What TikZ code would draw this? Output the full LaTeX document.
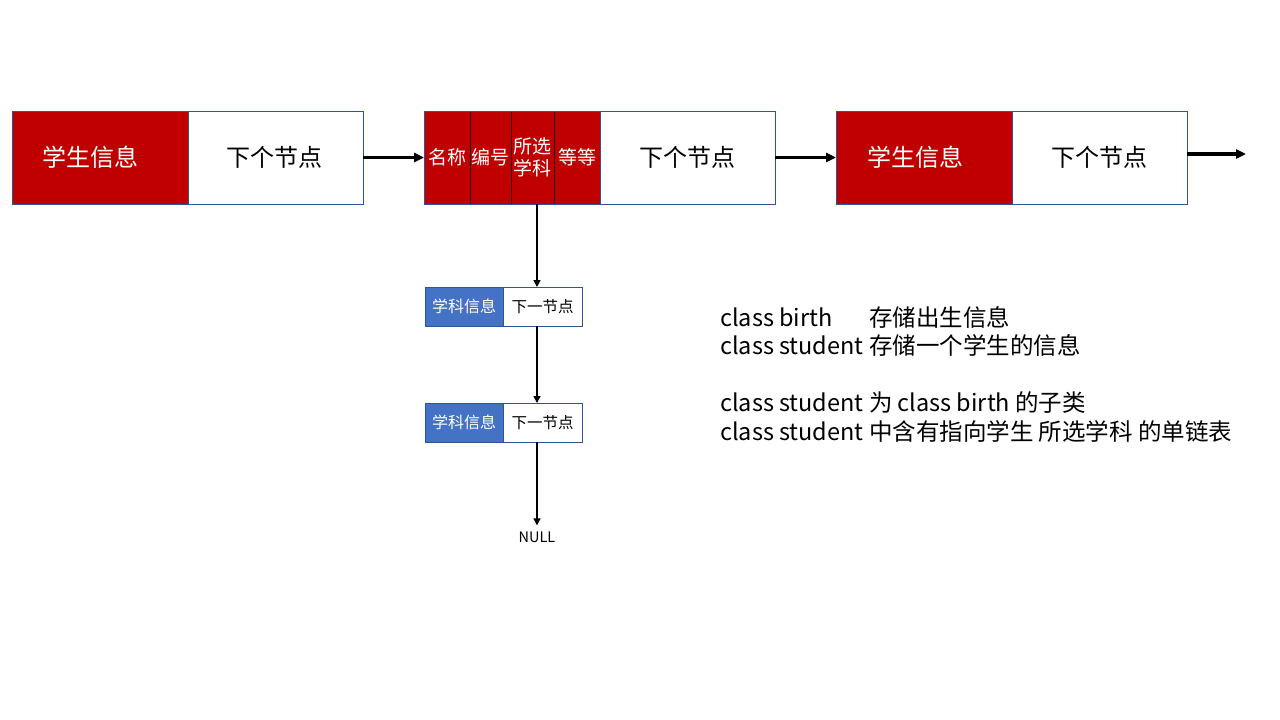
\documentclass[tikz,border=0pt]{standalone}
\usepackage{fontspec}
\setmainfont{Noto Sans CJK SC}
\usetikzlibrary{arrows.meta,positioning}

\definecolor{cellred}{HTML}{C00000}
\definecolor{cellblue}{HTML}{4472C4}
\definecolor{edgeblue}{HTML}{2F5597}

\tikzset{
    cell/.style = {draw=edgeblue, line width=1pt, inner sep=0pt, outer sep=0pt, minimum height=93pt},
    infocell/.style = {cell, fill=cellred, text=white, minimum width=176pt, font=\fontsize{24}{24}\selectfont},
    nextcell/.style = {cell, fill=white, minimum width=175pt, font=\fontsize{24}{24}\selectfont},
    fieldcell/.style = {cell, draw=black!75!cellred, fill=cellred, text=white, align=center, font=\fontsize{19}{22}\selectfont},
    subcell/.style = {draw=edgeblue, line width=1pt, inner sep=0pt, outer sep=0pt, minimum height=39pt, minimum width=78pt},
    link/.style = {line width=2.8pt, -{Triangle[length=10pt,width=9pt]}},
    sublink/.style = {line width=1.5pt, -{Triangle[length=7pt,width=7pt]}},
    note/.style = {anchor=west, inner sep=0pt, font=\fontsize{23.5}{23.5}\selectfont}
}

\begin{document}
\begin{tikzpicture}[x=1pt, y=-1pt]
    \useasboundingbox (0,0) rectangle (1280,720);

    % first student node
    \node[infocell] (info1) at (100,157.5) {学生信息\kern20pt};
    \node[nextcell, right=0pt of info1] (next1) {下个节点\kern3pt};

    % second student node, split into its fields
    \node[fieldcell, minimum width=46pt, anchor=west] (name) at (424,157.5) {名称};
    \node[fieldcell, minimum width=41pt, right=0pt of name] (num) {编号};
    \node[fieldcell, minimum width=43pt, right=0pt of num] (sel) {所选\\学科};
    \node[fieldcell, minimum width=46pt, right=0pt of sel] (etc) {等等};
    \node[nextcell, right=0pt of etc] (next2) {下个节点};
    \draw[edgeblue, line width=1pt] (name.north west) rectangle (next2.south east);

    % third student node
    \node[infocell, anchor=west] (info3) at (836,157.5) {学生信息\kern18pt};
    \node[nextcell, right=0pt of info3] (next3) {下个节点};

    % subject list
    \node[subcell, fill=cellblue, text=white, anchor=west, font=\fontsize{16}{16}\selectfont] (subj1) at (425,306.5) {学科信息};
    \node[subcell, fill=white, minimum width=79pt, right=0pt of subj1, font=\fontsize{15.5}{15.5}\selectfont] (subnext1) {下一节点};
    \node[subcell, fill=cellblue, text=white, anchor=west, font=\fontsize{16}{16}\selectfont] (subj2) at (425,422.5) {学科信息};
    \node[subcell, fill=white, minimum width=79pt, right=0pt of subj2, font=\fontsize{15.5}{15.5}\selectfont] (subnext2) {下一节点};
    \node[inner sep=0pt, font=\fontsize{14.5}{14.5}\selectfont] (null) at (537,537) {NULL};

    \coordinate (drop) at (537,0);
    \coordinate (tail) at (1246,154);

    \draw[link] (next1.east) -- (name.west);
    \draw[link] (next2.east) -- (info3.west);
    \draw[link, line width=3.2pt] ([yshift=3.5pt]next3.east) -- (tail);
    \draw[sublink] (sel.south -| drop) -- (drop |- subnext1.north);
    \draw[sublink] (drop |- subnext1.south) -- (drop |- subnext2.north);
    \draw[sublink] (drop |- subnext2.south) -- ([yshift=6pt]null.north);

    % notes
    \node[note] (n1) at (720,317) {\rlap{class birth}\phantom{class student }存储出生信息};
    \node[note] (n2) at (720,345) {class student 存储一个学生的信息};
    \node[note] (n3) at (720,403) {class student 为 class birth 的子类};
    \node[note] (n4) at (720,431) {class student 中含有指向学生 所选学科 的单链表};
\end{tikzpicture}
\end{document}
